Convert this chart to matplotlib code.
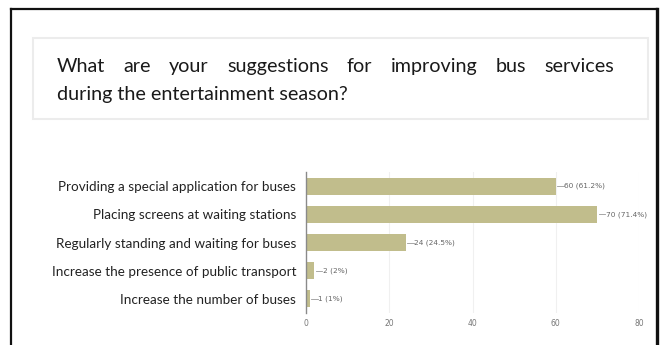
import matplotlib
matplotlib.use('Agg')
import matplotlib.pyplot as plt
from matplotlib.patches import Rectangle
from matplotlib.lines import Line2D

# Respostas da pesquisa sobre ônibus
categories = ['Providing a special application for buses',
              'Placing screens at waiting stations',
              'Regularly standing and waiting for buses',
              'Increase the presence of public transport',
              'Increase the number of buses']
counts = [60, 70, 24, 2, 1]
percents = ['61.2%', '71.4%', '24.5%', '2%', '1%']
xticks = [0, 20, 40, 60, 80]

title_line1 = 'What are your suggestions for improving bus services'
title_line2 = 'during the entertainment season?'

W, H = 664, 345
fig = plt.figure(figsize=(W / 100, H / 100), dpi=100)
fig.patch.set_facecolor('white')


def px(x, y):
    # pixel (topo-esquerda) -> fração da figura
    return x / W, 1 - y / H


# Moldura externa (sem borda inferior)
for (x0, y0, x1, y1, lw) in [(11, 9, 657, 9, 1.6), (11, 9, 11, 345, 1.6),
                             (657, 9, 657, 345, 2.4)]:
    a, b = px(x0, y0)
    c, d = px(x1, y1)
    fig.add_artist(Line2D([a, c], [b, d], color='#111111', lw=lw,
                          transform=fig.transFigure))

# Caixa do título
bx, by = px(33, 119)
fig.add_artist(Rectangle((bx, by), (648 - 33) / W, (119 - 38) / H,
                         transform=fig.transFigure, fill=False,
                         edgecolor='#ececec', lw=1.5))

tfont = dict(family='Lato', size=14.2, color='#1a1a1a')

# Primeira linha justificada: mede as palavras e distribui os espaços
words = title_line1.split()
fig.canvas.draw()
r = fig.canvas.get_renderer()
widths = []
for w in words:
    t = fig.text(0, 0, w, **tfont)
    widths.append(t.get_window_extent(renderer=r).width)
    t.remove()
left, right = 57, 614
gap = (right - left - sum(widths)) / (len(words) - 1)
x = left
for w, wd in zip(words, widths):
    fx, fy = px(x, 72)
    fig.text(fx, fy, w, va='baseline', ha='left', **tfont)
    x += wd + gap

fx, fy = px(57, 100)
fig.text(fx, fy, title_line2, va='baseline', ha='left', **tfont)

# Gráfico de barras horizontais
ax = fig.add_axes([306 / W, 1 - 313 / H, (639 - 306) / W, (313 - 172) / H])
pos = list(range(len(categories)))
ax.barh(pos, counts, height=0.6, color='#c1bd8c', zorder=2)
ax.set_xlim(0, 80)
ax.set_ylim(4.5, -0.5)
ax.set_xticks(xticks)
ax.set_xticklabels([str(v) for v in xticks], fontsize=5.5, color='#777777',
                   family='DejaVu Sans')
ax.tick_params(axis='x', length=0, pad=4)
ax.set_yticks(pos)
ax.set_yticklabels(categories, family='Lato', fontsize=9.7, color='#222222')
ax.tick_params(axis='y', length=0, pad=7)
for v in xticks[1:]:
    ax.axvline(v, color='#f0f0f0', lw=0.8, zorder=0)
for s in ['top', 'right', 'bottom']:
    ax.spines[s].set_visible(False)
ax.spines['left'].set_color('#8a8a8a')
ax.spines['left'].set_linewidth(1.0)

# Rótulos com linha guia
for p, c, pc in zip(pos, counts, percents):
    ax.plot([c + 0.3, c + 1.9], [p, p], color='#999999', lw=0.6, zorder=3)
    ax.text(c + 2.0, p, '%d (%s)' % (c, pc), va='center', ha='left',
            fontsize=5.3, color='#666666', family='DejaVu Sans')

fig.savefig('out.png', dpi=100, facecolor='white')
